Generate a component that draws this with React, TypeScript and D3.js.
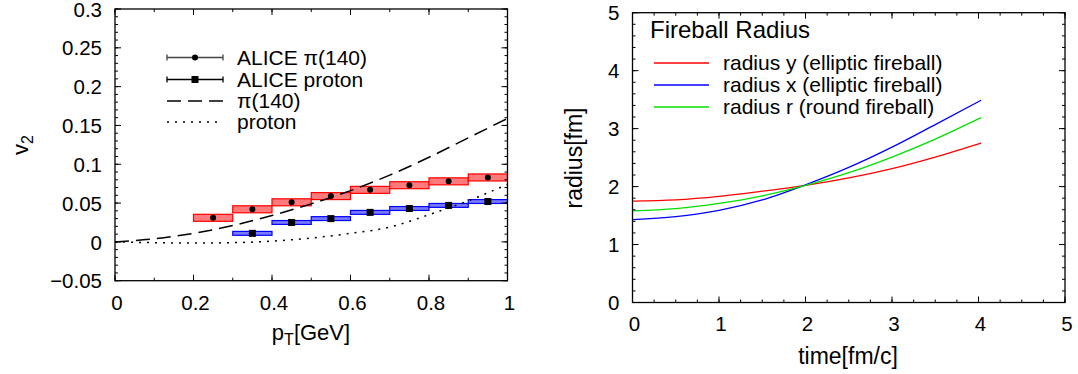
import React from 'react';
import * as d3 from 'd3';

// ---------- Left panel data (v2 vs pT) ----------
const pionPt = [0.25, 0.35, 0.45, 0.55, 0.65, 0.75, 0.85, 0.95];
const pionV2 = [0.031, 0.042, 0.051, 0.059, 0.067, 0.073, 0.078, 0.083];
const pionSys = [0.0045, 0.0045, 0.0045, 0.0045, 0.0045, 0.0045, 0.0045, 0.0045];
const protonPt = [0.35, 0.45, 0.55, 0.65, 0.75, 0.85, 0.95];
const protonV2 = [0.011, 0.025, 0.030, 0.038, 0.043, 0.047, 0.052];
const protonSys = [0.0025, 0.0025, 0.0025, 0.0025, 0.0025, 0.0025, 0.0025];
const binHalfWidth = 0.05;

const modelPt = [0, 0.1, 0.2, 0.3, 0.4, 0.5, 0.6, 0.7, 0.8, 0.9, 1.0];
const pionModel = [0, 0.004, 0.011, 0.021, 0.034, 0.049, 0.066, 0.086, 0.109, 0.134, 0.159];
const protonModel = [0, -0.001, -0.0015, -0.001, 0.001, 0.005, 0.011, 0.019, 0.035, 0.053, 0.074];

const leftXTicks = [0, 0.2, 0.4, 0.6, 0.8, 1];
const leftXLabels = ['0', '0.2', '0.4', '0.6', '0.8', '1'];
const leftYTicks = [-0.05, 0, 0.05, 0.1, 0.15, 0.2, 0.25, 0.3];
const leftYLabels = ['\u22120.05', '0', '0.05', '0.1', '0.15', '0.2', '0.25', '0.3'];
const leftLegend = ['ALICE \u03c0(140)', 'ALICE proton', '\u03c0(140)', 'proton'];

// ---------- Right panel data (radius vs time) ----------
const time = [0, 0.5, 1, 1.5, 2, 2.5, 3, 3.5, 4.03];
const radiusY = [1.75, 1.77, 1.83, 1.92, 2.02, 2.15, 2.31, 2.51, 2.75];
const radiusX = [1.43, 1.48, 1.59, 1.77, 2.03, 2.33, 2.68, 3.07, 3.49];
const radiusR = [1.58, 1.62, 1.71, 1.84, 2.02, 2.24, 2.51, 2.82, 3.19];
const rightTicks = [0, 1, 2, 3, 4, 5];
const rightTitle = 'Fireball Radius';
const rightLegend = ['radius y (elliptic fireball)', 'radius x (elliptic fireball)', 'radius r (round fireball)'];
const rightColors = ['#ff0000', '#0000ff', '#00e000'];

const FONT = 'Liberation Sans, Arial, Helvetica, sans-serif';
const TICK_FS = 20.5;
const LEG_FS = 21;

function Frame({ x0, x1, y0, y1, xMajor, xMinor, yMajor, yMinor }: any) {
  const maj = 6, min = 3;
  const els: any[] = [];
  xMinor.forEach((px: number, i: number) => {
    els.push(<line key={'xm' + i} x1={px} x2={px} y1={y0} y2={y0 - min} />);
    els.push(<line key={'xmt' + i} x1={px} x2={px} y1={y1} y2={y1 + min} />);
  });
  xMajor.forEach((px: number, i: number) => {
    els.push(<line key={'xM' + i} x1={px} x2={px} y1={y0} y2={y0 - maj} />);
    els.push(<line key={'xMt' + i} x1={px} x2={px} y1={y1} y2={y1 + maj} />);
  });
  yMinor.forEach((py: number, i: number) => {
    els.push(<line key={'ym' + i} x1={x0} x2={x0 + min} y1={py} y2={py} />);
    els.push(<line key={'ymr' + i} x1={x1} x2={x1 - min} y1={py} y2={py} />);
  });
  yMajor.forEach((py: number, i: number) => {
    els.push(<line key={'yM' + i} x1={x0} x2={x0 + maj} y1={py} y2={py} />);
    els.push(<line key={'yMr' + i} x1={x1} x2={x1 - maj} y1={py} y2={py} />);
  });
  return (
    <g stroke="#000" strokeWidth={1} fill="none">
      {els}
      <rect x={x0} y={y1} width={x1 - x0} height={y0 - y1} strokeWidth={1.3} />
    </g>
  );
}

function LeftPanel() {
  const x = d3.scaleLinear().domain([0, 1]).range([115, 507.5]);
  const y = d3.scaleLinear().domain([-0.05, 0.3]).range([280.7, 9]);
  const line = d3.line<number>().x((_, i) => x(modelPt[i])).y((d) => y(d)).curve(d3.curveMonotoneX);
  const xMinor = d3.range(0, 1.0001, 0.1).map((v) => x(v));
  const yMinor = d3.range(-0.05, 0.3001, 0.01).map((v) => y(v));
  const legX0 = 167, legX1 = 223, legTx = 237;
  const legY = [57.5, 79.5, 101, 122];
  return (
    <g>
      <defs>
        <clipPath id="clipL">
          <rect x={x(0)} y={y(0.3)} width={x(1) - x(0)} height={y(-0.05) - y(0.3)} />
        </clipPath>
      </defs>
      <g clipPath="url(#clipL)">
        {pionPt.map((p, i) => (
          <rect key={'pb' + i} x={x(p - binHalfWidth)} width={x(p + binHalfWidth) - x(p - binHalfWidth)}
            y={y(pionV2[i] + pionSys[i])} height={y(pionV2[i] - pionSys[i]) - y(pionV2[i] + pionSys[i])}
            fill="#ff7a7a" stroke="#ff0000" strokeWidth={1.2} />
        ))}
        {protonPt.map((p, i) => (
          <rect key={'prb' + i} x={x(p - binHalfWidth)} width={x(p + binHalfWidth) - x(p - binHalfWidth)}
            y={y(protonV2[i] + protonSys[i])} height={y(protonV2[i] - protonSys[i]) - y(protonV2[i] + protonSys[i])}
            fill="#7a7aff" stroke="#0000ff" strokeWidth={1.2} />
        ))}
        <path d={line(pionModel) || ''} fill="none" stroke="#000" strokeWidth={1.5} strokeDasharray="14,7" />
        <path d={line(protonModel) || ''} fill="none" stroke="#000" strokeWidth={1.5} strokeDasharray="2,6" />
        {pionPt.map((p, i) => (
          <circle key={'pc' + i} cx={x(p)} cy={y(pionV2[i])} r={3} fill="#000" />
        ))}
        {protonPt.map((p, i) => (
          <rect key={'ps' + i} x={x(p) - 3.5} y={y(protonV2[i]) - 3.5} width={7} height={7} fill="#000" />
        ))}
      </g>
      <Frame x0={x(0)} x1={x(1)} y0={y(-0.05)} y1={y(0.3)}
        xMajor={leftXTicks.map((v) => x(v))} xMinor={xMinor}
        yMajor={leftYTicks.map((v) => y(v))} yMinor={yMinor} />
      <g fontFamily={FONT} fontSize={TICK_FS} fill="#000">
        {leftXTicks.map((v, i) => (
          <text key={'xl' + i} x={x(v) + 2} y={y(-0.05) + 22} dy="0.35em" textAnchor="middle">{leftXLabels[i]}</text>
        ))}
        {leftYTicks.map((v, i) => (
          <text key={'yl' + i} x={x(0) - 13} y={y(v) + 0.5} dy="0.35em" textAnchor="end">{leftYLabels[i]}</text>
        ))}
        <text x={311} y={340} textAnchor="middle" fontSize={22}>p<tspan fontSize={16} dy={5}>T</tspan><tspan dy={-5}>[GeV]</tspan></text>
        <text transform={`translate(28,145) rotate(-90)`} textAnchor="middle" fontSize={22}>v<tspan fontSize={16} dy={5}>2</tspan></text>
      </g>
      {/* legend */}
      <g>
        <g stroke="#444" strokeWidth={1.3}>
          <line x1={legX0} x2={legX1} y1={legY[0]} y2={legY[0]} />
          <line x1={legX0} x2={legX0} y1={legY[0] - 3} y2={legY[0] + 3} />
          <line x1={legX1} x2={legX1} y1={legY[0] - 3} y2={legY[0] + 3} />
        </g>
        <circle cx={(legX0 + legX1) / 2} cy={legY[0]} r={3} fill="#000" />
        <g stroke="#000" strokeWidth={1.3}>
          <line x1={legX0} x2={legX1} y1={legY[1]} y2={legY[1]} />
          <line x1={legX0} x2={legX0} y1={legY[1] - 3} y2={legY[1] + 3} />
          <line x1={legX1} x2={legX1} y1={legY[1] - 3} y2={legY[1] + 3} />
        </g>
        <rect x={(legX0 + legX1) / 2 - 3.5} y={legY[1] - 3.5} width={7} height={7} fill="#000" />
        <line x1={legX0} x2={legX1} y1={legY[2]} y2={legY[2]} stroke="#000" strokeWidth={1.5} strokeDasharray="14,7" />
        <line x1={legX0} x2={legX1} y1={legY[3]} y2={legY[3]} stroke="#000" strokeWidth={1.5} strokeDasharray="2,6" />
        <g fontFamily={FONT} fontSize={LEG_FS} fill="#000">
          {leftLegend.map((t, i) => (
            <text key={'lg' + i} x={legTx} y={legY[i]} dy="0.35em">{t}</text>
          ))}
        </g>
      </g>
    </g>
  );
}

function RightPanel() {
  const x = d3.scaleLinear().domain([0, 5]).range([632.5, 1065]);
  const y = d3.scaleLinear().domain([0, 5]).range([302.5, 12.7]);
  const line = d3.line<number>().x((_, i) => x(time[i])).y((d) => y(d)).curve(d3.curveMonotoneX);
  const series = [radiusY, radiusX, radiusR];
  const xMinor = d3.range(0, 5.0001, 0.25).map((v) => x(v));
  const yMinor = d3.range(0, 5.0001, 0.2).map((v) => y(v));
  const legX0 = 654, legX1 = 709, legTx = 723;
  const legY = [63, 85, 107];
  return (
    <g>
      {series.map((s, i) => (
        <path key={'rs' + i} d={line(s) || ''} fill="none" stroke={rightColors[i]} strokeWidth={1.3} />
      ))}
      <Frame x0={x(0)} x1={x(5)} y0={y(0)} y1={y(5)}
        xMajor={rightTicks.map((v) => x(v))} xMinor={xMinor}
        yMajor={rightTicks.map((v) => y(v))} yMinor={yMinor} />
      <g fontFamily={FONT} fontSize={TICK_FS} fill="#000">
        {rightTicks.map((v, i) => (
          <text key={'rxl' + i} x={x(v) + 2} y={y(0) + 21.5} dy="0.35em" textAnchor="middle">{String(v)}</text>
        ))}
        {rightTicks.map((v, i) => (
          <text key={'ryl' + i} x={x(0) - 13} y={y(v) + 0.5} dy="0.35em" textAnchor="end">{String(v)}</text>
        ))}
        <text x={848} y={356} dy="0.35em" textAnchor="middle" fontSize={23}>time[fm/c]</text>
        <text transform={`translate(574,158) rotate(-90)`} dy="0.35em" textAnchor="middle" fontSize={23}>radius[fm]</text>
        <text x={650} y={30} dy="0.35em" fontSize={24}>{rightTitle}</text>
      </g>
      <g>
        {rightLegend.map((t, i) => (
          <g key={'rl' + i}>
            <line x1={legX0} x2={legX1} y1={legY[i]} y2={legY[i]} stroke={rightColors[i]} strokeWidth={1.3} />
            <text x={legTx} y={legY[i]} dy="0.35em" fontFamily={FONT} fontSize={LEG_FS} fill="#000">{t}</text>
          </g>
        ))}
      </g>
    </g>
  );
}

export default function App() {
  return (
    <svg width={1078} height={374} viewBox="0 0 1078 374"
      style={{ position: 'absolute', left: 0, top: 0, display: 'block', background: '#fff' }}>
      <rect x={0} y={0} width={1078} height={374} fill="#fff" />
      <LeftPanel />
      <RightPanel />
    </svg>
  );
}
